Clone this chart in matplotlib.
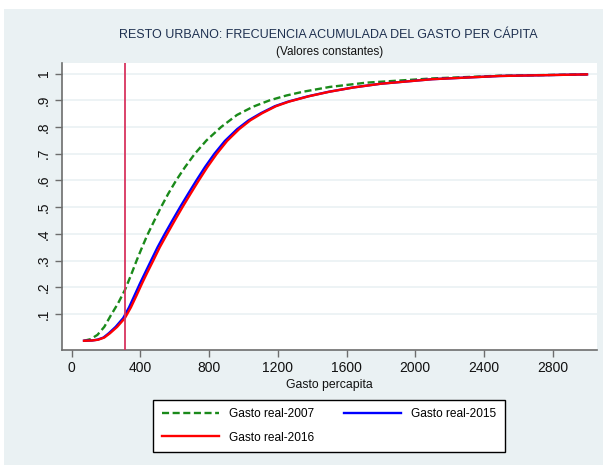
import numpy as np
import matplotlib
matplotlib.use("Agg")
import matplotlib.pyplot as plt
from matplotlib.patches import Rectangle

plt.rcParams['font.family'] = ['Liberation Sans', 'DejaVu Sans']

# values (gasto per capita vs cumulative share)
x_2007 = [72, 110, 150, 190, 228, 270, 310, 345, 378, 410, 440, 480, 520, 562,
          608, 660, 717, 785, 870, 962, 1056, 1153, 1250, 1347, 1502, 1715,
          2103, 2490, 3000]
y_2007 = [0.0, 0.006, 0.022, 0.052, 0.095, 0.14, 0.19, 0.245, 0.30, 0.35, 0.395,
          0.448, 0.50, 0.55, 0.60, 0.65, 0.70, 0.75, 0.80, 0.845, 0.876, 0.90,
          0.918, 0.932, 0.95, 0.966, 0.982, 0.992, 0.997]

x_2015 = [72, 118, 150, 185, 216, 256, 300, 334, 366, 398, 428, 462, 500, 542,
          586, 631, 678, 726, 776, 831, 892, 963, 1030, 1102, 1183, 1260, 1376,
          1497, 1638, 1798, 2098, 2490, 3000]
y_2015 = [0.0, 0.001, 0.004, 0.012, 0.028, 0.052, 0.085, 0.125, 0.17, 0.215,
          0.255, 0.30, 0.35, 0.40, 0.45, 0.50, 0.55, 0.60, 0.65, 0.70, 0.748,
          0.792, 0.825, 0.852, 0.878, 0.895, 0.915, 0.932, 0.948, 0.962, 0.979,
          0.991, 0.997]

x_2016 = [72, 120, 155, 190, 223, 265, 310, 345, 378, 410, 440, 475, 513, 556,
          600, 645, 692, 740, 790, 845, 905, 975, 1040, 1110, 1190, 1265, 1380,
          1500, 1640, 1800, 2100, 2490, 3000]
y_2016 = [0.0, 0.001, 0.004, 0.012, 0.028, 0.052, 0.085, 0.125, 0.17, 0.215,
          0.255, 0.30, 0.35, 0.40, 0.45, 0.50, 0.55, 0.60, 0.65, 0.70, 0.748,
          0.792, 0.825, 0.852, 0.878, 0.895, 0.915, 0.932, 0.948, 0.962, 0.979,
          0.991, 0.997]

linea_pobreza = 310

x_ticks = [0, 400, 800, 1200, 1600, 2000, 2400, 2800]
y_ticks = [0.1, 0.2, 0.3, 0.4, 0.5, 0.6, 0.7, 0.8, 0.9, 1.0]
y_tick_labels = ['.1', '.2', '.3', '.4', '.5', '.6', '.7', '.8', '.9', '1']

W, H = 607, 469
bg = '#eaf1f3'

fig = plt.figure(figsize=(W / 100, H / 100), dpi=100, facecolor='white')
# graph region
fig.patches.append(Rectangle((4 / W, 1 - 465 / H), 599 / W, 456 / H,
                             transform=fig.transFigure, facecolor=bg,
                             edgecolor='none', zorder=-5))

ax = fig.add_axes([61.7 / W, 1 - 350 / H, (597.3 - 61.7) / W, (350 - 63.3) / H])
ax.set_facecolor('white')

ax.plot(x_2007, y_2007, color='#1a8a1a', lw=1.7, ls=(0, (3.0, 1.5)),
        label='Gasto real-2007', zorder=3)
ax.plot(x_2015, y_2015, color='#0000ff', lw=1.7, label='Gasto real-2015', zorder=4)
ax.plot(x_2016, y_2016, color='#ff0000', lw=1.7, label='Gasto real-2016', zorder=5)
ax.axvline(linea_pobreza, color='#d8345f', lw=1.3, zorder=6)

ax.set_xlim(-58, 3060)
ax.set_ylim(-0.0346, 1.0385)
ax.set_xticks(x_ticks)
ax.set_xticklabels([str(t) for t in x_ticks])
ax.set_yticks(y_ticks)
ax.set_yticklabels(y_tick_labels, rotation=90, va='center')
ax.grid(axis='y', color=bg, lw=1.2, zorder=1)
ax.set_axisbelow(True)

for s in ['top', 'right']:
    ax.spines[s].set_visible(False)
for s in ['left', 'bottom']:
    ax.spines[s].set_color('#6d6d6d')
    ax.spines[s].set_linewidth(1.2)
ax.tick_params(axis='both', direction='out', length=5, width=1, color='#6d6d6d',
               labelsize=10, labelcolor='#111111', pad=3)

ax.set_xlabel('Gasto percapita', fontsize=8.8, color='#111111', labelpad=3)

fig.text(328.5 / W, 1 - 35 / H, 'RESTO URBANO: FRECUENCIA ACUMULADA DEL GASTO PER CÁPITA',
         ha='center', va='center', fontsize=9, color='#1e3050')
fig.text(330 / W, 1 - 52 / H, '(Valores constantes)', ha='center', va='center',
         fontsize=8.5, color='#111111')

h, l = ax.get_legend_handles_labels()
order = [0, 2, 1]
leg = fig.legend([h[i] for i in order], [l[i] for i in order], ncol=2,
                 loc='center', bbox_to_anchor=(329 / W, 1 - 426 / H),
                 fontsize=8.6, frameon=True, fancybox=False, edgecolor='black',
                 facecolor='white', framealpha=1,
                 handlelength=4.8, handletextpad=0.84, columnspacing=2.5,
                 labelspacing=0.95, borderpad=0.72)
leg.get_frame().set_linewidth(1.0)

fig.savefig('out.png', dpi=100, facecolor='white')
